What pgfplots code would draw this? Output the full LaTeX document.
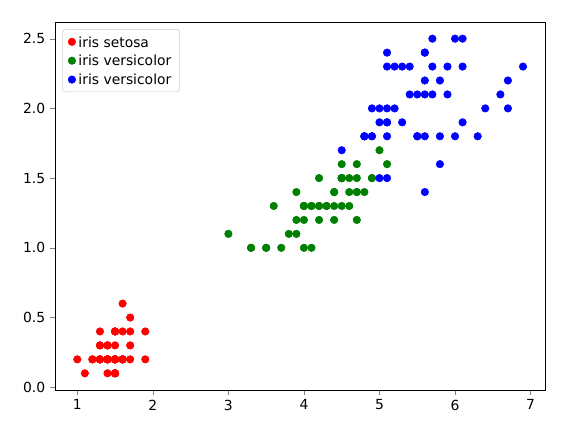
\documentclass[border=0pt]{standalone}
\usepackage{pgfplots}
\pgfplotsset{compat=1.18}
\usepackage{fontspec}
\setmainfont{DejaVu Sans}
\definecolor{mgreen}{RGB}{0,128,0}
\begin{document}
\begin{tikzpicture}
\path (-39.6pt,-24.5pt) rectangle (371.5pt,280.8pt);
\begin{axis}[scale only axis, width=353pt, height=265pt,
 xmin=0.705, xmax=7.195, ymin=-0.02, ymax=2.62,
 xtick={1,2,3,4,5,6,7}, ytick={0,0.5,1,1.5,2,2.5},
 yticklabel style={/pgf/number format/.cd,fixed,fixed zerofill,precision=1},
 /pgf/number format/assume math mode=true,
 tick align=outside, tick pos=left, major tick length=3.5pt,
 ticklabel style={font=\fontsize{10}{12}\selectfont},
 legend image code/.code={\draw[mark repeat=2,mark phase=2] plot coordinates {(0cm,0cm)(0.3cm,0cm)(0.6cm,0cm)};},
 legend style={font=\fontsize{10}{12}\selectfont, draw=black!20, rounded corners=2pt, at={(0.015,0.98)}, anchor=north west, row sep=2pt, inner xsep=4pt, inner ysep=3pt, nodes={inner sep=2pt, text depth=0pt}},
 legend cell align=left]
\addplot[only marks, mark=*, mark size=2.7pt, color=red] coordinates {
(1.4,0.2)(1.4,0.2)(1.3,0.2)(1.5,0.2)(1.4,0.2)(1.7,0.4)(1.4,0.3)(1.5,0.2)(1.4,0.2)(1.5,0.1)(1.5,0.2)(1.6,0.2)(1.4,0.1)(1.1,0.1)(1.2,0.2)(1.5,0.4)(1.3,0.4)(1.4,0.3)(1.7,0.3)(1.5,0.3)(1.7,0.2)(1.5,0.4)(1.0,0.2)(1.7,0.5)(1.9,0.2)(1.6,0.2)(1.6,0.4)(1.5,0.2)(1.4,0.2)(1.6,0.2)(1.6,0.2)(1.5,0.4)(1.5,0.1)(1.4,0.2)(1.5,0.1)(1.2,0.2)(1.3,0.2)(1.5,0.1)(1.3,0.2)(1.5,0.2)(1.3,0.3)(1.3,0.3)(1.3,0.2)(1.6,0.6)(1.9,0.4)(1.4,0.3)(1.6,0.2)(1.4,0.2)(1.5,0.2)(1.4,0.2)};
\addlegendentry{iris setosa}
\addplot[only marks, mark=*, mark size=2.7pt, color=mgreen] coordinates {
(4.7,1.4)(4.5,1.5)(4.9,1.5)(4.0,1.3)(4.6,1.5)(4.5,1.3)(4.7,1.6)(3.3,1.0)(4.6,1.3)(3.9,1.4)(3.5,1.0)(4.2,1.5)(4.0,1.0)(4.7,1.4)(3.6,1.3)(4.4,1.4)(4.5,1.5)(4.1,1.0)(4.5,1.5)(3.9,1.1)(4.8,1.8)(4.0,1.3)(4.9,1.5)(4.7,1.2)(4.3,1.3)(4.4,1.4)(4.8,1.4)(5.0,1.7)(4.5,1.5)(3.5,1.0)(3.8,1.1)(3.7,1.0)(3.9,1.2)(5.1,1.6)(4.5,1.5)(4.5,1.6)(4.7,1.5)(4.4,1.3)(4.1,1.3)(4.0,1.3)(4.4,1.2)(4.6,1.4)(4.0,1.2)(3.3,1.0)(4.2,1.3)(4.2,1.2)(4.2,1.3)(4.3,1.3)(3.0,1.1)(4.1,1.3)};
\addlegendentry{iris versicolor}
\addplot[only marks, mark=*, mark size=2.7pt, color=blue] coordinates {
(6.0,2.5)(5.1,1.9)(5.9,2.1)(5.6,1.8)(5.8,2.2)(6.6,2.1)(4.5,1.7)(6.3,1.8)(5.8,1.8)(6.1,2.5)(5.1,2.0)(5.3,1.9)(5.5,2.1)(5.0,2.0)(5.1,2.4)(5.3,2.3)(5.5,1.8)(6.7,2.2)(6.9,2.3)(5.0,1.5)(5.7,2.3)(4.9,2.0)(6.7,2.0)(4.9,1.8)(5.7,2.1)(6.0,1.8)(4.8,1.8)(4.9,1.8)(5.6,2.1)(5.8,1.6)(6.1,1.9)(6.4,2.0)(5.6,2.2)(5.1,1.5)(5.6,1.4)(6.1,2.3)(5.6,2.4)(5.5,1.8)(4.8,1.8)(5.4,2.1)(5.6,2.4)(5.1,2.3)(5.1,1.9)(5.9,2.3)(5.7,2.5)(5.2,2.3)(5.0,1.9)(5.2,2.0)(5.4,2.3)(5.1,1.8)};
\addlegendentry{iris versicolor}
\end{axis}
\end{tikzpicture}
\end{document}
